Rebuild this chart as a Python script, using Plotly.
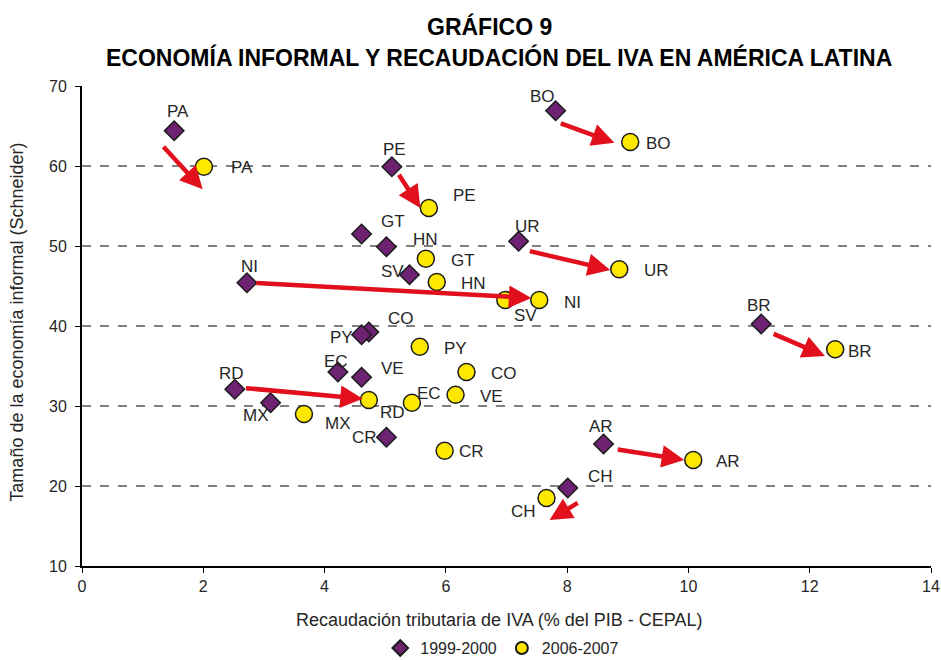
import plotly.graph_objects as go

# ---- data ----
countries = ["PA", "BO", "PE", "GT", "HN", "SV", "NI", "UR", "BR", "CO", "PY",
             "EC", "VE", "RD", "MX", "CR", "AR", "CH"]
iva_1999 = [1.52, 7.81, 5.11, 4.61, 5.02, 5.40, 2.72, 7.20, 11.20, 4.73, 4.61,
            4.22, 4.61, 2.52, 3.11, 5.02, 8.60, 8.01]
inf_1999 = [64.4, 66.9, 59.9, 51.5, 49.9, 46.4, 45.4, 50.6, 40.25, 39.25, 38.9,
            34.25, 33.6, 32.1, 30.4, 26.1, 25.25, 19.75]
iva_2006 = [2.01, 9.04, 5.72, 5.67, 5.85, 6.98, 7.54, 8.86, 12.42, 6.34, 5.57,
            5.44, 6.16, 4.73, 3.66, 5.98, 10.08, 7.66]
inf_2006 = [59.9, 63.0, 54.75, 48.4, 45.5, 43.25, 43.25, 47.1, 37.1, 34.25, 37.4,
            30.4, 31.4, 30.75, 29.0, 24.4, 23.25, 18.5]

# arrows (start -> end) drawn for selected countries
arrow_countries = ["PA", "PE", "NI", "BO", "UR", "BR", "RD", "AR", "CH"]
arrow_x0 = [1.32, 5.21, 2.85, 7.87, 7.36, 11.38, 2.68, 8.81, 8.20]
arrow_y0 = [62.6, 59.1, 45.4, 65.4, 49.4, 39.1, 32.25, 24.6, 18.0]
arrow_x1 = [1.99, 5.58, 7.41, 8.78, 8.71, 12.25, 4.63, 9.93, 7.71]
arrow_y1 = [57.1, 54.75, 43.5, 62.9, 47.0, 36.25, 30.9, 23.25, 15.75]

x_ticks = [0, 2, 4, 6, 8, 10, 12, 14]
y_ticks = [10, 20, 30, 40, 50, 60, 70]

title_lines = ["GRÁFICO 9", "ECONOMÍA INFORMAL Y RECAUDACIÓN DEL IVA EN AMÉRICA LATINA"]
x_title = "Recaudación tributaria de IVA (% del PIB - CEPAL)"
y_title = "Tamaño de la economía informal (Schneider)"

# ---- label pixel offsets (layout only) ----
off_1999 = [(4, -19), (-13, -14), (3, -17), (31, -13), (39, -7), (-17, -3),
            (3, -16), (9, -15), (-2, -19), (32, -14), (-20, 3), (-2, -11),
            (31, -9), (-3, -16), (-15, 13), (-22, 0), (-3, -18), (33, -12)]
off_2006 = [(38, 1), (28, 1), (36, -13), (37, 2), (37, 1), (20, 15),
            (33, 2), (37, 1), (25, 2), (38, 1), (36, 2), (17, -9),
            (36, 2), (24, 12), (34, 9), (27, 1), (35, 1), (-23, 13)]

FONT = "Liberation Sans, Arial, sans-serif"
TXT = "#262626"
RED = "#e2101c"

fig = go.Figure()
fig.add_trace(go.Scatter(
    x=iva_1999, y=inf_1999, mode="markers", name="1999-2000",
    marker=dict(symbol="diamond", size=15, color="#6e2372",
                line=dict(color="#1a1a1a", width=1.5)),
    hoverinfo="text", text=countries))
fig.add_trace(go.Scatter(
    x=iva_2006, y=inf_2006, mode="markers", name="2006-2007",
    marker=dict(symbol="circle", size=17, color="#ffe800",
                line=dict(color="#1a1a1a", width=1.5)),
    hoverinfo="text", text=countries))

annotations = []
for i in range(len(arrow_countries)):
    annotations.append(dict(
        x=arrow_x1[i], y=arrow_y1[i], ax=arrow_x0[i], ay=arrow_y0[i],
        xref="x", yref="y", axref="x", ayref="y", text="",
        showarrow=True, arrowhead=2, arrowsize=1.0, arrowwidth=4.5,
        arrowcolor=RED, standoff=0, startstandoff=0))

for i, c in enumerate(countries):
    dx, dy = off_1999[i]
    annotations.append(dict(x=iva_1999[i], y=inf_1999[i], text=c, showarrow=False,
                            xshift=dx, yshift=-dy,
                            font=dict(family=FONT, size=17, color=TXT)))
    dx, dy = off_2006[i]
    annotations.append(dict(x=iva_2006[i], y=inf_2006[i], text=c, showarrow=False,
                            xshift=dx, yshift=-dy,
                            font=dict(family=FONT, size=17, color=TXT)))

# titles
annotations.append(dict(text="<b>" + title_lines[0] + "</b>", xref="paper", yref="paper",
                        x=0.48, y=1.125, xanchor="center", yanchor="middle", showarrow=False,
                        font=dict(family=FONT, size=23, color="#000")))
annotations.append(dict(text="<b>" + title_lines[1] + "</b>", xref="paper", yref="paper",
                        x=0.4906, y=1.06, xanchor="center", yanchor="middle", showarrow=False,
                        font=dict(family=FONT, size=23, color="#000")))
annotations.append(dict(text=x_title, xref="paper", yref="paper",
                        x=0.492, y=-0.1125, xanchor="center", yanchor="middle", showarrow=False,
                        font=dict(family=FONT, size=18, color=TXT)))
annotations.append(dict(text=y_title, xref="paper", yref="paper", textangle=-90,
                        x=-0.076, y=0.508, xanchor="center", yanchor="middle", showarrow=False,
                        font=dict(family=FONT, size=18, color=TXT)))

fig.update_layout(
    width=941, height=660,
    margin=dict(l=82, r=10, t=86, b=94, autoexpand=False),
    paper_bgcolor="white", plot_bgcolor="white",
    font=dict(family=FONT, size=16, color=TXT),
    xaxis=dict(range=[0, 14], tickvals=x_ticks, showgrid=False, zeroline=False,
               showline=True, linecolor="#000", linewidth=2, ticks="outside",
               ticklen=5, tickcolor="#000", automargin=False,
               tickfont=dict(size=16), ticklabelstandoff=0),
    yaxis=dict(range=[10, 70], tickvals=y_ticks, showgrid=True, gridcolor="#808080",
               griddash="dash", gridwidth=1.5, zeroline=False,
               showline=True, linecolor="#000", linewidth=2, ticks="outside",
               ticklen=5, tickcolor="#000", automargin=False,
               tickfont=dict(size=16), ticklabelstandoff=5),
    legend=dict(orientation="h", x=0.495, xanchor="center", xref="paper",
                y=0.018, yanchor="middle", yref="container",
                font=dict(size=16), itemsizing="constant", itemwidth=30),
    annotations=annotations,
)

fig.write_html("out.html", post_script="document.body.style.margin='0px';",
               config={"displayModeBar": False})
